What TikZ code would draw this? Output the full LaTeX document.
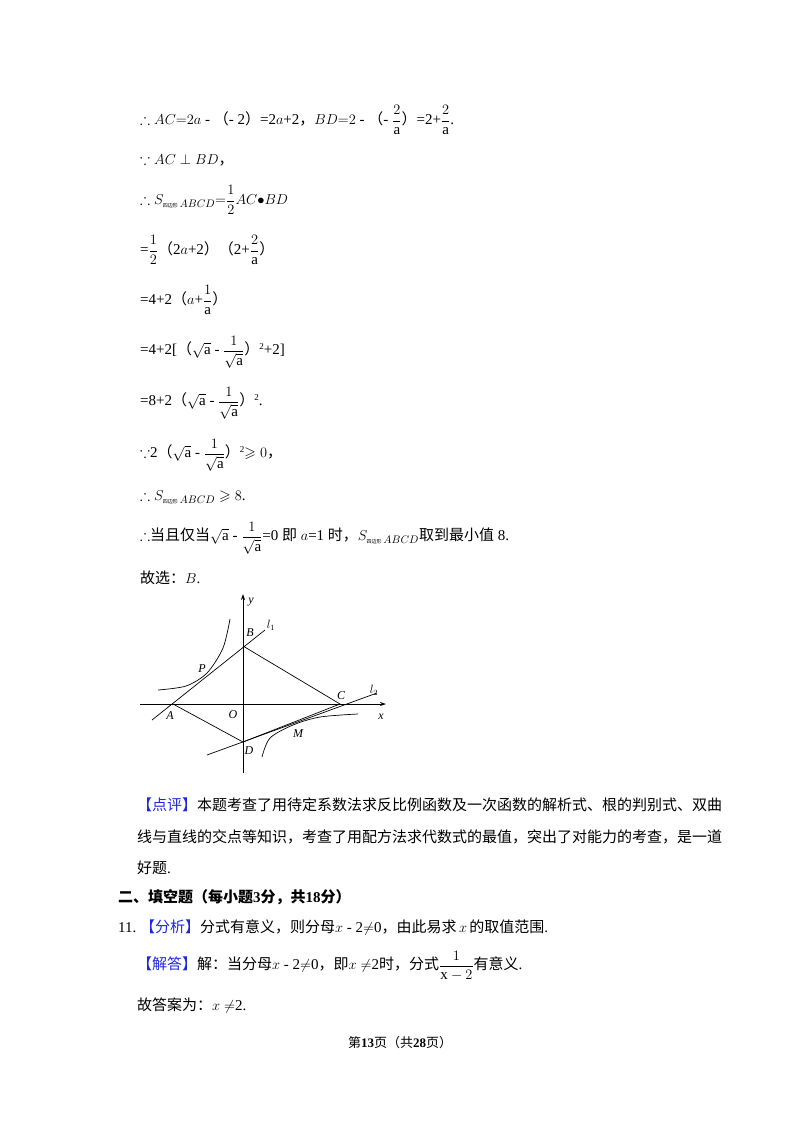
\documentclass[tikz,border=0pt]{standalone}
\usepackage{amsmath,amssymb}
\usepackage{fontspec}
\usetikzlibrary{arrows.meta}
\setmainfont{Liberation Serif}
\newfontfamily\cjk{Noto Sans CJK SC}
\newcommand{\z}[1]{{\cjk #1}}
\newcommand{\ra}{\mathrm{a}}
\newcommand{\sub}{_{\text{\z{\tiny 四边形}}\,ABCD}}
\definecolor{tagblue}{RGB}{30,40,220}
\begin{document}
\begin{tikzpicture}[x=1pt,y=-1pt,
  txt/.style={anchor=west,inner sep=0pt,font=\fontsize{15}{18}\selectfont},
  lbl/.style={inner sep=0pt,font=\fontsize{12}{14}\selectfont\itshape},
  ax/.style={line width=0.8pt,-{Stealth[length=6pt,width=4pt]}},
  ln/.style={line width=0.7pt}]
\useasboundingbox (0,0) rectangle (800,1132);
\fill[white] (0,0) rectangle (800,1132);
\node[txt] (l1) at (140,120) {$\therefore AC{=}2a$ - \z{（}- 2\z{）}=2$a$+2\z{，}$BD{=}2$ - \z{（}- $\dfrac{2}{\ra}$\z{）}=2+$\dfrac{2}{\ra}$.};
\node[txt] (l2) at (140,160) {$\because AC\perp BD$\z{，}};
\node[txt] (l3) at (140,200) {$\therefore S\sub{=}\dfrac{1}{2}AC{\bullet}BD$};
\node[txt] (l4) at (140,250) {=$\dfrac{1}{2}$\z{（}2$a$+2\z{）}\z{（}2+$\dfrac{2}{\ra}$\z{）}};
\node[txt] (l5) at (140,300) {=4+2\z{（}$a$+$\dfrac{1}{\ra}$\z{）}};
\node[txt] (l6) at (140,352) {=4+2[\z{（}$\sqrt{\ra}$ - $\dfrac{1}{\sqrt{\ra}}$\z{）}\raisebox{5pt}{\small 2}+2]};
\node[txt] (l7) at (140,403) {=8+2\z{（}$\sqrt{\ra}$ - $\dfrac{1}{\sqrt{\ra}}$\z{）}\raisebox{5pt}{\small 2}.};
\node[txt] (l8) at (140,455) {$\because$2\z{（}$\sqrt{\ra}$ - $\dfrac{1}{\sqrt{\ra}}$\z{）}\raisebox{5pt}{\small 2}$\geqslant 0$\z{，}};
\node[txt] (l9) at (140,497) {$\therefore S\sub\geqslant 8$.};
\node[txt] (l10) at (140,538) {$\therefore$\z{当且仅当}$\sqrt{\ra}$ - $\dfrac{1}{\sqrt{\ra}}$=0 \z{即} $a$=1 \z{时，}$S\sub$\z{取到最小值} 8.};
\node[txt] (l11) at (140,578) {\z{故选：}$B$.};
% figure
\coordinate (O) at (243,704);
\coordinate (A) at (173,704);
\coordinate (B) at (243,646);
\coordinate (C) at (340,704);
\coordinate (D) at (243,742);
\coordinate (xs) at (140,704);
\coordinate (xe) at (386,704);
\coordinate (ys) at (243,773);
\coordinate (ye) at (243,594);
\coordinate (l1s) at (152,720);
\coordinate (l1e) at (265,630);
\coordinate (l2s) at (207,755);
\coordinate (l2e) at (377,693);
\draw[ax] (xs) -- (xe);
\draw[ax] (ys) -- (ye);
\draw[ln] (l1s) -- (l1e);
\draw[ln] (l2s) -- (l2e);
\draw[ln] (A) -- (D) -- (C) -- (B);
\draw[ln] plot[smooth] coordinates {(230,619) (223,648) (207,673) (186,686) (158,690)};
\draw[ln] plot[smooth] coordinates {(262,757) (270,738) (293,725) (320,717) (358,714)};
\node[lbl] (ty) at (251,602) {y};
\node[lbl] (tB) at (250,633) {B};
\node[lbl] (tl1) at (271,625) {$l_1$};
\node[lbl] (tP) at (202,669) {P};
\node[lbl] (tA) at (170,716) {A};
\node[lbl] (tO) at (233,715) {O};
\node[lbl] (tC) at (341,696) {C};
\node[lbl] (tl2) at (374,690) {$l_2$};
\node[lbl] (tx) at (381,717) {x};
\node[lbl] (tD) at (249,751) {D};
\node[lbl] (tM) at (298,734) {M};
% bottom text
\node[txt] (p1) at (137,805) {\z{\textcolor{tagblue}{【点评】}本题考查了用待定系数法求反比例函数及一次函数的解析式、根的判别式、双曲}};
\node[txt] (p2) at (137,837) {\z{线与直线的交点等知识，考查了用配方法求代数式的最值，突出了对能力的考查，是一道}};
\node[txt] (p3) at (137,868) {\z{好题}.};
\node[txt] (h) at (118,897) {\bfseries\z{二、填空题（每小题}3\z{分，共}18\z{分）}};
\node[txt] (q) at (118,928) {11.\ \z{\textcolor{tagblue}{【分析】}分式有意义，则分母}$x$ - 2$\neq$0\z{，由此易求}$\,x\,$\z{的取值范围}.};
\node[txt] (s) at (137,966) {\z{\textcolor{tagblue}{【解答】}解：当分母}$x$ - 2$\neq$0\z{，即}$x\neq$2\z{时，分式}$\dfrac{1}{\mathrm{x}-2}$\z{有意义}.};
\node[txt] (g) at (137,1006) {\z{故答案为：}$x\neq$2.};
\node[inner sep=0pt,font=\fontsize{13}{15}\selectfont] (f) at (400,1043) {\z{第}\textbf{13}\z{页（共}\textbf{28}\z{页）}};
\end{tikzpicture}
\end{document}
